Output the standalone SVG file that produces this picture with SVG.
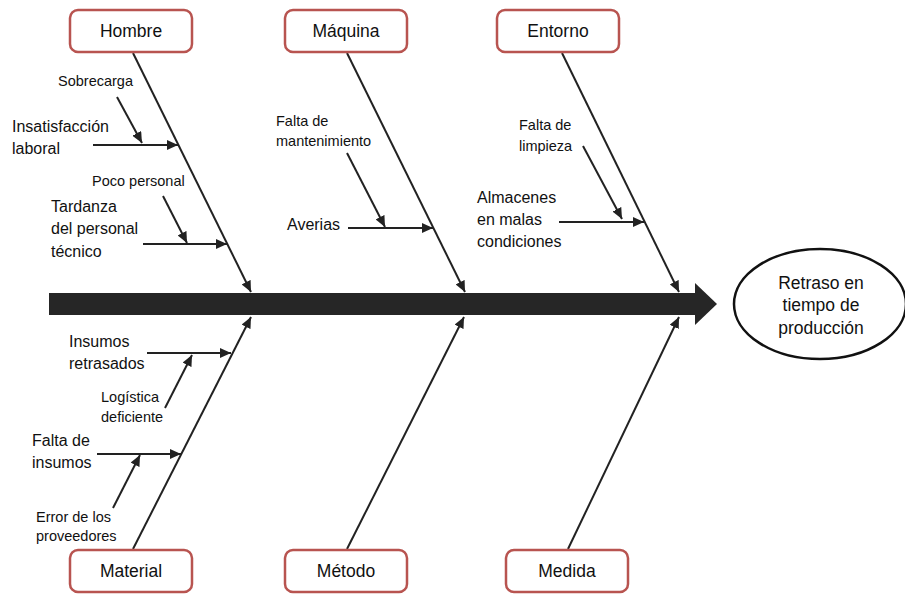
<svg xmlns="http://www.w3.org/2000/svg" width="905" height="594" viewBox="0 0 905 594">
<style>
.box{fill:#fff;stroke:#b85450;stroke-width:2.5}
.bl{font-family:"Liberation Sans",Arial,sans-serif;font-size:17.5px;fill:#111;text-anchor:middle}
.t{font-family:"Liberation Sans",Arial,sans-serif;font-size:16px;fill:#111}
.s{font-family:"Liberation Sans",Arial,sans-serif;font-size:14.5px;fill:#111}
.ln{stroke:#222;stroke-width:2;fill:none;marker-end:url(#ah)}
</style>
<defs>
<marker id="ah" markerUnits="userSpaceOnUse" markerWidth="12" markerHeight="10" refX="11" refY="5" orient="auto">
<path d="M0,0 L11,5 L0,10 Z" fill="#222"/>
</marker>
</defs>
<rect width="905" height="594" fill="#fff"/>
<g id="connectors">
<rect x="49" y="293" width="647" height="22" fill="#262626"/>
<polygon points="695,283 717,304 695,325" fill="#262626"/>
<line class="ln" x1="133" y1="53" x2="251" y2="292"/>
<line class="ln" x1="347" y1="53" x2="465" y2="292"/>
<line class="ln" x1="562" y1="53" x2="679" y2="292"/>
<line class="ln" x1="133" y1="549" x2="251" y2="317"/>
<line class="ln" x1="347" y1="549" x2="464" y2="317"/>
<line class="ln" x1="568" y1="549" x2="679" y2="317"/>
<line class="ln" x1="93" y1="145" x2="178" y2="145"/>
<line class="ln" x1="117" y1="97" x2="142" y2="143"/>
<line class="ln" x1="143" y1="244" x2="227" y2="244"/>
<line class="ln" x1="163" y1="196" x2="187" y2="243"/>
<line class="ln" x1="348" y1="228" x2="433" y2="228"/>
<line class="ln" x1="347" y1="153" x2="385" y2="227"/>
<line class="ln" x1="559" y1="222" x2="644" y2="222"/>
<line class="ln" x1="583" y1="146" x2="622" y2="219"/>
<line class="ln" x1="147" y1="353" x2="231" y2="353"/>
<line class="ln" x1="165" y1="408" x2="192" y2="355"/>
<line class="ln" x1="97" y1="454" x2="181" y2="454"/>
<line class="ln" x1="113" y1="508" x2="140" y2="455"/>
</g>
<g id="hombre"><rect class="box" x="70" y="10" width="122" height="42" rx="8"/><text class="bl" x="131" y="37">Hombre</text></g>
<g id="maquina"><rect class="box" x="285" y="10" width="122" height="42" rx="8"/><text class="bl" x="346" y="37">Máquina</text></g>
<g id="entorno"><rect class="box" x="497" y="10" width="122" height="42" rx="8"/><text class="bl" x="558" y="37">Entorno</text></g>
<g id="material"><rect class="box" x="70" y="550" width="122" height="42" rx="8"/><text class="bl" x="131" y="577">Material</text></g>
<g id="metodo"><rect class="box" x="285" y="550" width="122" height="42" rx="8"/><text class="bl" x="346" y="577">Método</text></g>
<g id="medida"><rect class="box" x="506" y="550" width="122" height="42" rx="8"/><text class="bl" x="567" y="577">Medida</text></g>
<g id="efecto"><ellipse cx="820" cy="304" rx="86" ry="55" fill="#fff" stroke="#111" stroke-width="2.5"/>
<text class="bl" x="821" y="289">Retraso en</text><text class="bl" x="821" y="311">tiempo de</text><text class="bl" x="821" y="334">producción</text></g>
<g id="labels">
<text class="s" x="58" y="86">Sobrecarga</text>
<text class="t" x="12" y="132">Insatisfacción</text>
<text class="t" x="12" y="154">laboral</text>
<text class="s" x="92" y="186">Poco personal</text>
<text class="t" x="51" y="212">Tardanza</text>
<text class="t" x="51" y="234">del personal</text>
<text class="t" x="51" y="257">técnico</text>
<text class="s" x="276" y="126">Falta de</text>
<text class="s" x="276" y="146">mantenimiento</text>
<text class="t" x="287" y="230">Averias</text>
<text class="s" x="519" y="130">Falta de</text>
<text class="s" x="519" y="151">limpieza</text>
<text class="t" x="477" y="203">Almacenes</text>
<text class="t" x="477" y="225">en malas</text>
<text class="t" x="477" y="247">condiciones</text>
<text class="t" x="69" y="347">Insumos</text>
<text class="t" x="69" y="369">retrasados</text>
<text class="s" x="101" y="402">Logística</text>
<text class="s" x="101" y="422">deficiente</text>
<text class="t" x="32" y="446">Falta de</text>
<text class="t" x="32" y="468">insumos</text>
<text class="s" x="36" y="522">Error de los</text>
<text class="s" x="36" y="541">proveedores</text>
</g>
</svg>
